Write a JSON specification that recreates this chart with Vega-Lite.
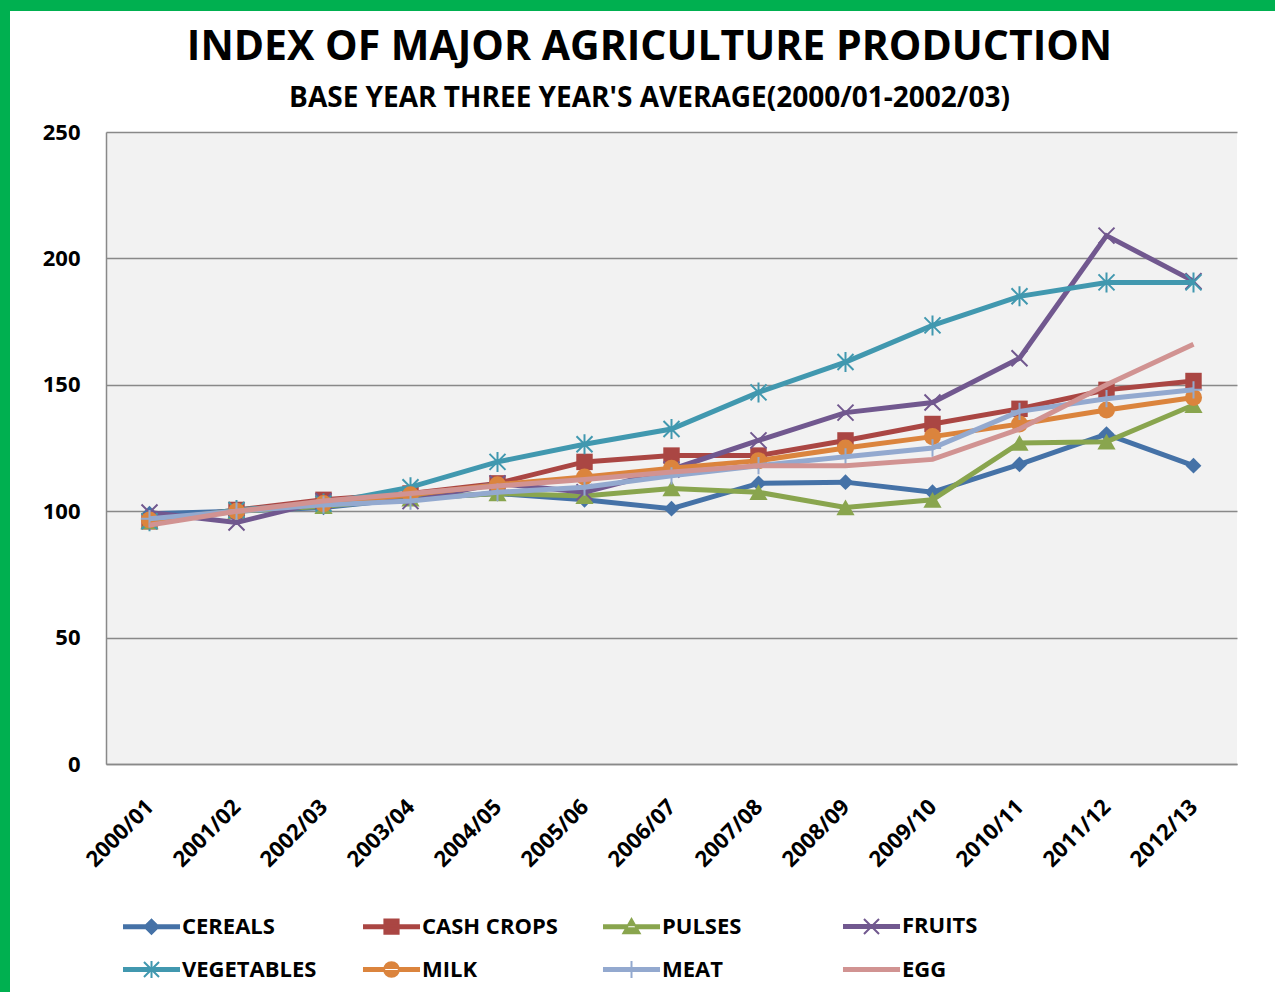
{
  "$schema": "https://vega.github.io/schema/vega-lite/v6.json",
  "background": "white",
  "padding": 0,
  "spacing": 0,
  "config": {
    "view": {"stroke": null},
    "font": "Open Sans"
  },
  "datasets": {
    "idx": [
      {"year": "2000/01", "series": "CEREALS", "value": 99},
      {"year": "2001/02", "series": "CEREALS", "value": 100},
      {"year": "2002/03", "series": "CEREALS", "value": 101.5},
      {"year": "2003/04", "series": "CEREALS", "value": 105},
      {"year": "2004/05", "series": "CEREALS", "value": 107},
      {"year": "2005/06", "series": "CEREALS", "value": 104.5},
      {"year": "2006/07", "series": "CEREALS", "value": 101},
      {"year": "2007/08", "series": "CEREALS", "value": 111},
      {"year": "2008/09", "series": "CEREALS", "value": 111.5},
      {"year": "2009/10", "series": "CEREALS", "value": 107.5},
      {"year": "2010/11", "series": "CEREALS", "value": 118.5},
      {"year": "2011/12", "series": "CEREALS", "value": 130.5},
      {"year": "2012/13", "series": "CEREALS", "value": 118},
      {"year": "2000/01", "series": "CASH CROPS", "value": 96},
      {"year": "2001/02", "series": "CASH CROPS", "value": 100.5},
      {"year": "2002/03", "series": "CASH CROPS", "value": 104.5},
      {"year": "2003/04", "series": "CASH CROPS", "value": 107},
      {"year": "2004/05", "series": "CASH CROPS", "value": 111},
      {"year": "2005/06", "series": "CASH CROPS", "value": 119.5},
      {"year": "2006/07", "series": "CASH CROPS", "value": 122},
      {"year": "2007/08", "series": "CASH CROPS", "value": 122},
      {"year": "2008/09", "series": "CASH CROPS", "value": 128},
      {"year": "2009/10", "series": "CASH CROPS", "value": 134.5},
      {"year": "2010/11", "series": "CASH CROPS", "value": 140.5},
      {"year": "2011/12", "series": "CASH CROPS", "value": 148},
      {"year": "2012/13", "series": "CASH CROPS", "value": 151.5},
      {"year": "2000/01", "series": "PULSES", "value": 96},
      {"year": "2001/02", "series": "PULSES", "value": 100},
      {"year": "2002/03", "series": "PULSES", "value": 102},
      {"year": "2003/04", "series": "PULSES", "value": 105},
      {"year": "2004/05", "series": "PULSES", "value": 107},
      {"year": "2005/06", "series": "PULSES", "value": 106},
      {"year": "2006/07", "series": "PULSES", "value": 109},
      {"year": "2007/08", "series": "PULSES", "value": 107.5},
      {"year": "2008/09", "series": "PULSES", "value": 101.5},
      {"year": "2009/10", "series": "PULSES", "value": 104.5},
      {"year": "2010/11", "series": "PULSES", "value": 127},
      {"year": "2011/12", "series": "PULSES", "value": 127.5},
      {"year": "2012/13", "series": "PULSES", "value": 142},
      {"year": "2000/01", "series": "FRUITS", "value": 99.5},
      {"year": "2001/02", "series": "FRUITS", "value": 95.5},
      {"year": "2002/03", "series": "FRUITS", "value": 104},
      {"year": "2003/04", "series": "FRUITS", "value": 104},
      {"year": "2004/05", "series": "FRUITS", "value": 111},
      {"year": "2005/06", "series": "FRUITS", "value": 107.5},
      {"year": "2006/07", "series": "FRUITS", "value": 116.5},
      {"year": "2007/08", "series": "FRUITS", "value": 128},
      {"year": "2008/09", "series": "FRUITS", "value": 139},
      {"year": "2009/10", "series": "FRUITS", "value": 143},
      {"year": "2010/11", "series": "FRUITS", "value": 160.5},
      {"year": "2011/12", "series": "FRUITS", "value": 209},
      {"year": "2012/13", "series": "FRUITS", "value": 191},
      {"year": "2000/01", "series": "VEGETABLES", "value": 96},
      {"year": "2001/02", "series": "VEGETABLES", "value": 100.5},
      {"year": "2002/03", "series": "VEGETABLES", "value": 103},
      {"year": "2003/04", "series": "VEGETABLES", "value": 109.5},
      {"year": "2004/05", "series": "VEGETABLES", "value": 119.5},
      {"year": "2005/06", "series": "VEGETABLES", "value": 126.5},
      {"year": "2006/07", "series": "VEGETABLES", "value": 132.5},
      {"year": "2007/08", "series": "VEGETABLES", "value": 147},
      {"year": "2008/09", "series": "VEGETABLES", "value": 159},
      {"year": "2009/10", "series": "VEGETABLES", "value": 173.5},
      {"year": "2010/11", "series": "VEGETABLES", "value": 185},
      {"year": "2011/12", "series": "VEGETABLES", "value": 190.5},
      {"year": "2012/13", "series": "VEGETABLES", "value": 190.5},
      {"year": "2000/01", "series": "MILK", "value": 96.5},
      {"year": "2001/02", "series": "MILK", "value": 100},
      {"year": "2002/03", "series": "MILK", "value": 103},
      {"year": "2003/04", "series": "MILK", "value": 106.5},
      {"year": "2004/05", "series": "MILK", "value": 110.5},
      {"year": "2005/06", "series": "MILK", "value": 113.5},
      {"year": "2006/07", "series": "MILK", "value": 117},
      {"year": "2007/08", "series": "MILK", "value": 120},
      {"year": "2008/09", "series": "MILK", "value": 125},
      {"year": "2009/10", "series": "MILK", "value": 129.5},
      {"year": "2010/11", "series": "MILK", "value": 134.5},
      {"year": "2011/12", "series": "MILK", "value": 140},
      {"year": "2012/13", "series": "MILK", "value": 145},
      {"year": "2000/01", "series": "MEAT", "value": 97},
      {"year": "2001/02", "series": "MEAT", "value": 100},
      {"year": "2002/03", "series": "MEAT", "value": 102.5},
      {"year": "2003/04", "series": "MEAT", "value": 104},
      {"year": "2004/05", "series": "MEAT", "value": 107.5},
      {"year": "2005/06", "series": "MEAT", "value": 109.5},
      {"year": "2006/07", "series": "MEAT", "value": 114},
      {"year": "2007/08", "series": "MEAT", "value": 118},
      {"year": "2008/09", "series": "MEAT", "value": 121.5},
      {"year": "2009/10", "series": "MEAT", "value": 125},
      {"year": "2010/11", "series": "MEAT", "value": 139.5},
      {"year": "2011/12", "series": "MEAT", "value": 144.5},
      {"year": "2012/13", "series": "MEAT", "value": 148},
      {"year": "2000/01", "series": "EGG", "value": 94.5},
      {"year": "2001/02", "series": "EGG", "value": 100},
      {"year": "2002/03", "series": "EGG", "value": 104},
      {"year": "2003/04", "series": "EGG", "value": 107},
      {"year": "2004/05", "series": "EGG", "value": 110},
      {"year": "2005/06", "series": "EGG", "value": 112.5},
      {"year": "2006/07", "series": "EGG", "value": 115.5},
      {"year": "2007/08", "series": "EGG", "value": 118},
      {"year": "2008/09", "series": "EGG", "value": 118},
      {"year": "2009/10", "series": "EGG", "value": 120.5},
      {"year": "2010/11", "series": "EGG", "value": 132.5},
      {"year": "2011/12", "series": "EGG", "value": 150},
      {"year": "2012/13", "series": "EGG", "value": 166}
    ]
  },
  "vconcat": [
    {
      "width": 1275,
      "height": 11,
      "data": {"values": []},
      "mark": {"type": "rule"},
      "encoding": {},
      "view": {"fill": "#00b050", "stroke": null}
    },
    {
      "spacing": 32,
      "hconcat": [
        {
          "width": 10,
          "height": 981,
          "data": {"values": []},
          "mark": {"type": "rule"},
          "encoding": {},
          "view": {"fill": "#00b050", "stroke": null}
        },
        {
          "spacing": 0,
          "vconcat": [
            {
              "width": 1,
              "height": 16,
              "data": {"values": []},
              "mark": {"type": "rule"},
              "encoding": {},
              "view": {"fill": null, "stroke": null}
            },
            {
              "width": 1131,
              "height": 632,
              "view": {"fill": "#f2f2f2", "stroke": null},
              "data": {"name": "idx"},
              "title": {
                "text": "INDEX OF MAJOR AGRICULTURE PRODUCTION",
                "subtitle": "BASE YEAR THREE YEAR'S AVERAGE(2000/01-2002/03)",
                "font": "Open Sans",
                "subtitleFont": "Open Sans",
                "fontSize": 41,
                "subtitleFontSize": 28,
                "fontWeight": 700,
                "subtitleFontWeight": 700,
                "color": "#000000",
                "subtitleColor": "#000000",
                "anchor": "middle",
                "frame": "group",
                "dx": -22,
                "offset": 7,
                "subtitlePadding": 16
              },
              "encoding": {
                "x": {
                  "field": "year",
                  "type": "ordinal",
                  "scale": {"type": "point", "padding": 0.5},
                  "axis": {
                    "title": null,
                    "labelAngle": -45,
                    "labelAlign": "right",
                    "labelBaseline": "middle",
                    "labelFont": "Open Sans",
                    "labelFontWeight": 700,
                    "labelFontSize": 22,
                    "labelColor": "#000000",
                    "labelPadding": 39,
                    "ticks": false,
                    "grid": false,
                    "domain": true,
                    "domainColor": "#898989",
                    "domainWidth": 1.5
                  }
                },
                "y": {
                  "field": "value",
                  "type": "quantitative",
                  "scale": {"domain": [0, 250], "nice": false},
                  "axis": {
                    "title": null,
                    "values": [0, 50, 100, 150, 200, 250],
                    "labelFont": "Open Sans",
                    "labelFontWeight": 700,
                    "labelFontSize": 22,
                    "labelColor": "#000000",
                    "labelPadding": 26,
                    "ticks": false,
                    "domain": true,
                    "domainColor": "#898989",
                    "domainWidth": 1.5,
                    "grid": true,
                    "gridColor": "#898989",
                    "gridWidth": 1.3
                  }
                },
                "color": {
                  "field": "series",
                  "type": "nominal",
                  "scale": {
                    "domain": ["CEREALS", "CASH CROPS", "PULSES", "FRUITS", "VEGETABLES", "MILK", "MEAT", "EGG"],
                    "range": ["#4572A7", "#AA4643", "#89A54E", "#71588F", "#4198AF", "#DB843D", "#93A9CF", "#D19392"]
                  },
                  "legend": {
                    "title": null,
                    "orient": "none",
                    "legendX": 129,
                    "legendY": 903,
                    "direction": "horizontal",
                    "columns": 4,
                    "gridAlign": "all",
                    "columnPadding": 41,
                    "rowPadding": 8,
                    "padding": 0,
                    "symbolSize": 1849,
                    "symbolStrokeWidth": 2,
                    "labelFont": "Open Sans",
                    "labelFontWeight": 700,
                    "labelFontSize": 22,
                    "labelColor": "#000000",
                    "labelOffset": 8,
                    "labelLimit": 400,
                    "encode": {
                      "symbols": {
                        "update": {
                          "shape": {"signal": "datum.value === 'CEREALS' ? 'M-1.28,-0.07L1.28,-0.07L1.28,0.07L-1.28,0.07ZM-0.33,0L0,-0.33L0.33,0L0,0.33Z' : datum.value === 'CASH CROPS' ? 'M-1.28,-0.07L1.28,-0.07L1.28,0.07L-1.28,0.07ZM-0.33,-0.33L0.33,-0.33L0.33,0.33L-0.33,0.33Z' : datum.value === 'PULSES' ? 'M-1.28,-0.07L1.28,-0.07L1.28,0.07L-1.28,0.07ZM-0.38,0.3L0.38,0.3L0,-0.36Z' : datum.value === 'FRUITS' ? 'M-1.28,-0.07L1.28,-0.07L1.28,0.07L-1.28,0.07ZM-0.35,-0.35L0.35,0.35M-0.35,0.35L0.35,-0.35' : datum.value === 'VEGETABLES' ? 'M-1.28,-0.07L1.28,-0.07L1.28,0.07L-1.28,0.07ZM-0.35,-0.35L0.35,0.35M-0.35,0.35L0.35,-0.35M0,-0.4L0,0.4' : datum.value === 'MILK' ? 'M-1.28,-0.07L1.28,-0.07L1.28,0.07L-1.28,0.07ZM-0.34,0A0.34,0.34,0,1,0,0.34,0A0.34,0.34,0,1,0,-0.34,0Z' : datum.value === 'MEAT' ? 'M-1.28,-0.07L1.28,-0.07L1.28,0.07L-1.28,0.07ZM0,-0.4L0,0.4' : 'M-1.28,-0.07L1.28,-0.07L1.28,0.07L-1.28,0.07Z'"},
                          "fill": {"scale": "color", "field": "value"},
                          "stroke": {"scale": "color", "field": "value"},
                          "strokeWidth": {"value": 2},
                          "opacity": {"value": 1},
                          "fillOpacity": {"value": 1},
                          "strokeOpacity": {"value": 1}
                        }
                      }
                    }
                  }
                }
              },
              "layer": [
                {
                  "transform": [{"filter": {"field": "series", "equal": "CEREALS"}}],
                  "mark": {"type": "line", "strokeWidth": 5, "point": {"shape": "diamond", "size": 250, "filled": true}}
                },
                {
                  "transform": [{"filter": {"field": "series", "equal": "CASH CROPS"}}],
                  "mark": {"type": "line", "strokeWidth": 5, "point": {"shape": "square", "size": 270, "filled": true}}
                },
                {
                  "transform": [{"filter": {"field": "series", "equal": "PULSES"}}],
                  "mark": {"type": "line", "strokeWidth": 5, "point": {"shape": "triangle-up", "size": 330, "filled": true}}
                },
                {
                  "transform": [{"filter": {"field": "series", "equal": "FRUITS"}}],
                  "mark": {"type": "line", "strokeWidth": 5, "point": {"shape": "M-1,-1L1,1M-1,1L1,-1", "size": 256, "filled": false, "strokeWidth": 2}}
                },
                {
                  "transform": [{"filter": {"field": "series", "equal": "VEGETABLES"}}],
                  "mark": {"type": "line", "strokeWidth": 5, "point": {"shape": "M-1,-1L1,1M-1,1L1,-1M0,-1.25L0,1.25", "size": 256, "filled": false, "strokeWidth": 2}}
                },
                {
                  "transform": [{"filter": {"field": "series", "equal": "MILK"}}],
                  "mark": {"type": "line", "strokeWidth": 5, "point": {"shape": "circle", "size": 290, "filled": true}}
                },
                {
                  "transform": [{"filter": {"field": "series", "equal": "MEAT"}}],
                  "mark": {"type": "line", "strokeWidth": 5, "point": {"shape": "M-1,0L1,0M0,-1L0,1", "size": 300, "filled": false, "strokeWidth": 2}}
                },
                {
                  "transform": [{"filter": {"field": "series", "equal": "EGG"}}],
                  "mark": {"type": "line", "strokeWidth": 5}
                }
              ]
            }
          ]
        }
      ]
    }
  ]
}
